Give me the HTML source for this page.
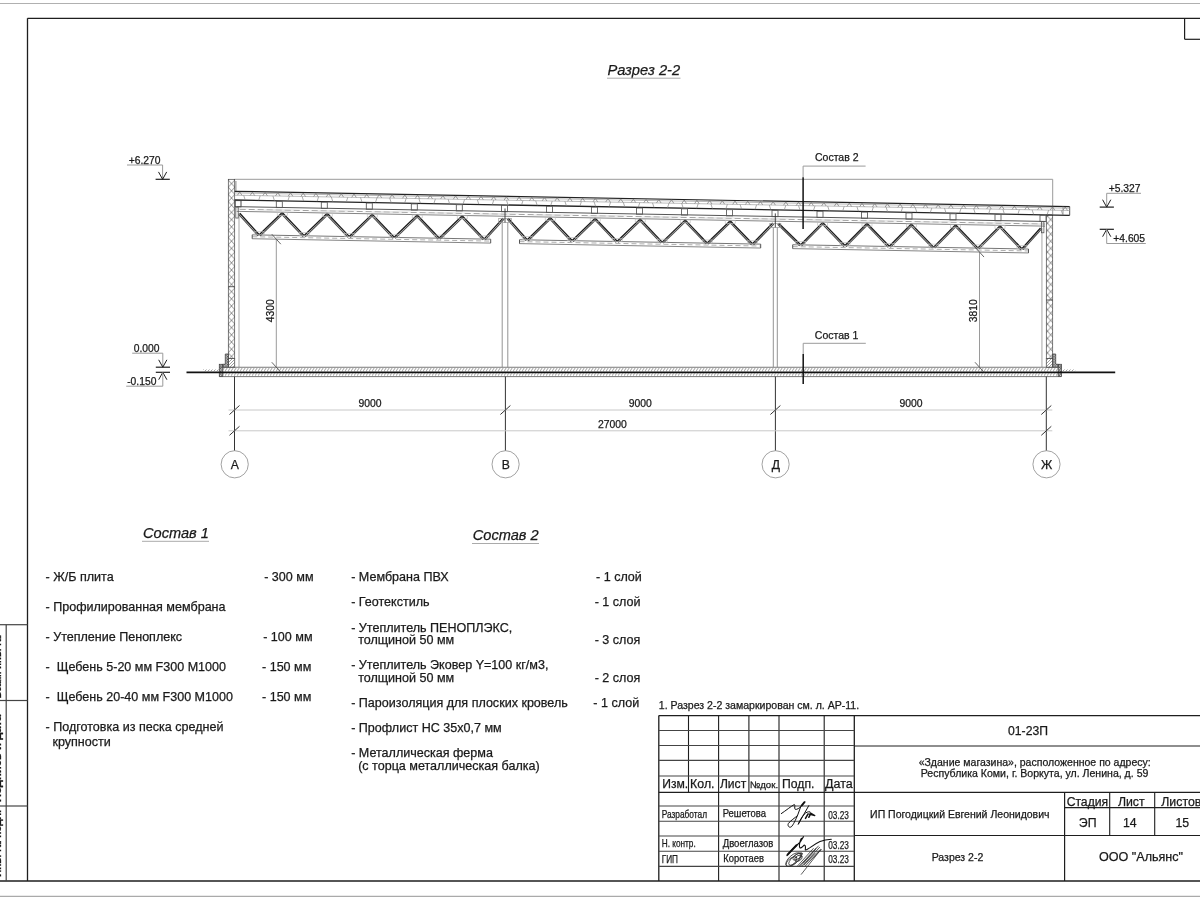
<!DOCTYPE html>
<html><head><meta charset="utf-8"><title>Разрез 2-2</title>
<style>
html,body{margin:0;padding:0;background:#fff;width:1200px;height:900px;overflow:hidden}
svg{display:block;will-change:transform;font-family:"Liberation Sans",sans-serif;fill:#1a1a1a}
text{fill:#1a1a1a;stroke:#1a1a1a;stroke-width:0.25px}
</style></head><body>
<svg width="1200" height="900" viewBox="0 0 1200 900">
<rect x="0" y="0" width="1200" height="900" fill="#fff" stroke="none"/>
<line x1="0.00" y1="3.50" x2="1200.00" y2="3.50" stroke="#b0b0b0" stroke-width="1.1" />
<line x1="0.00" y1="896.30" x2="1200.00" y2="896.30" stroke="#aaa" stroke-width="1.2" />
<line x1="27.50" y1="18.30" x2="1200.00" y2="18.30" stroke="#1e1e1e" stroke-width="1.3" />
<line x1="27.50" y1="18.30" x2="27.50" y2="881.00" stroke="#1e1e1e" stroke-width="1.3" />
<line x1="0.00" y1="881.00" x2="1200.00" y2="881.00" stroke="#1e1e1e" stroke-width="1.3" />
<line x1="1184.60" y1="18.30" x2="1184.60" y2="39.30" stroke="#1e1e1e" stroke-width="1.2" />
<line x1="1184.60" y1="39.30" x2="1200.00" y2="39.30" stroke="#1e1e1e" stroke-width="1.2" />
<line x1="6.20" y1="624.70" x2="6.20" y2="881.00" stroke="#444" stroke-width="1.2" />
<line x1="0.00" y1="624.70" x2="27.50" y2="624.70" stroke="#444" stroke-width="1.2" />
<line x1="0.00" y1="700.50" x2="27.50" y2="700.50" stroke="#444" stroke-width="1.2" />
<line x1="0.00" y1="806.00" x2="27.50" y2="806.00" stroke="#444" stroke-width="1.2" />
<text transform="translate(1.4,698.5) rotate(-90)" font-size="10.5" textLength="63.5" lengthAdjust="spacingAndGlyphs" font-weight="bold">Взам. инв. №</text>
<text transform="translate(1.4,802) rotate(-90)" font-size="10.5" textLength="87.4" lengthAdjust="spacingAndGlyphs" font-weight="bold">Подпись и дата</text>
<text transform="translate(1.4,877) rotate(-90)" font-size="10.5" textLength="67.0" lengthAdjust="spacingAndGlyphs" font-weight="bold">Инв. № подл.</text>
<line x1="658.80" y1="715.60" x2="658.80" y2="881.00" stroke="#1e1e1e" stroke-width="1.3" />
<line x1="688.50" y1="715.60" x2="688.50" y2="792.40" stroke="#1e1e1e" stroke-width="1.1" />
<line x1="718.60" y1="715.60" x2="718.60" y2="881.00" stroke="#1e1e1e" stroke-width="1.1" />
<line x1="748.90" y1="715.60" x2="748.90" y2="792.40" stroke="#1e1e1e" stroke-width="1.1" />
<line x1="779.00" y1="715.60" x2="779.00" y2="881.00" stroke="#1e1e1e" stroke-width="1.1" />
<line x1="824.20" y1="715.60" x2="824.20" y2="881.00" stroke="#1e1e1e" stroke-width="1.1" />
<line x1="854.30" y1="715.60" x2="854.30" y2="881.00" stroke="#1e1e1e" stroke-width="1.3" />
<line x1="658.80" y1="730.50" x2="854.30" y2="730.50" stroke="#444" stroke-width="1.1" />
<line x1="658.80" y1="745.50" x2="854.30" y2="745.50" stroke="#444" stroke-width="1.1" />
<line x1="658.80" y1="760.40" x2="854.30" y2="760.40" stroke="#444" stroke-width="1.1" />
<line x1="658.80" y1="776.00" x2="854.30" y2="776.00" stroke="#444" stroke-width="1.1" />
<line x1="658.80" y1="806.00" x2="854.30" y2="806.00" stroke="#444" stroke-width="1.1" />
<line x1="658.80" y1="821.20" x2="854.30" y2="821.20" stroke="#444" stroke-width="1.1" />
<line x1="658.80" y1="836.00" x2="854.30" y2="836.00" stroke="#444" stroke-width="1.1" />
<line x1="658.80" y1="851.20" x2="854.30" y2="851.20" stroke="#444" stroke-width="1.1" />
<line x1="658.80" y1="866.40" x2="854.30" y2="866.40" stroke="#444" stroke-width="1.1" />
<line x1="658.80" y1="715.60" x2="1200.00" y2="715.60" stroke="#1e1e1e" stroke-width="1.3" />
<line x1="658.80" y1="792.40" x2="1200.00" y2="792.40" stroke="#1e1e1e" stroke-width="1.3" />
<line x1="854.30" y1="746.00" x2="1200.00" y2="746.00" stroke="#1e1e1e" stroke-width="1.2" />
<line x1="854.30" y1="835.50" x2="1200.00" y2="835.50" stroke="#1e1e1e" stroke-width="1.2" />
<line x1="1064.60" y1="792.40" x2="1064.60" y2="881.00" stroke="#1e1e1e" stroke-width="1.2" />
<line x1="1109.70" y1="792.40" x2="1109.70" y2="835.50" stroke="#1e1e1e" stroke-width="1.1" />
<line x1="1154.70" y1="792.40" x2="1154.70" y2="835.50" stroke="#1e1e1e" stroke-width="1.1" />
<line x1="1064.60" y1="807.60" x2="1200.00" y2="807.60" stroke="#1e1e1e" stroke-width="1.1" />
<text x="662.30" y="787.70" font-size="12.1" text-anchor="start" >Изм.</text>
<text x="690.10" y="787.70" font-size="12.35" text-anchor="start" >Кол.</text>
<text x="719.90" y="787.70" font-size="12.1" text-anchor="start" >Лист</text>
<text x="749.80" y="787.70" font-size="9.3" textLength="28.30" lengthAdjust="spacingAndGlyphs" >№док.</text>
<text x="782.10" y="787.70" font-size="12.2" text-anchor="start" >Подп.</text>
<text x="825.00" y="787.70" font-size="12.5" text-anchor="start" >Дата</text>
<text x="661.70" y="817.60" font-size="10.2" textLength="45.30" lengthAdjust="spacingAndGlyphs" >Разработал</text>
<text x="722.70" y="816.50" font-size="10.2" textLength="43.30" lengthAdjust="spacingAndGlyphs" >Решетова</text>
<text x="661.70" y="846.90" font-size="10.2" textLength="34.00" lengthAdjust="spacingAndGlyphs" >Н. контр.</text>
<text x="722.70" y="846.90" font-size="10.2" textLength="50.60" lengthAdjust="spacingAndGlyphs" >Двоеглазов</text>
<text x="661.70" y="862.60" font-size="10.2" textLength="16.30" lengthAdjust="spacingAndGlyphs" >ГИП</text>
<text x="723.30" y="862.30" font-size="10.2" textLength="40.60" lengthAdjust="spacingAndGlyphs" >Коротаев</text>
<text x="828.30" y="818.70" font-size="10.2" textLength="20.60" lengthAdjust="spacingAndGlyphs" >03.23</text>
<text x="828.30" y="848.60" font-size="10.2" textLength="20.60" lengthAdjust="spacingAndGlyphs" >03.23</text>
<text x="828.30" y="863.40" font-size="10.2" textLength="20.60" lengthAdjust="spacingAndGlyphs" >03.23</text>
<g fill="none" stroke="#111" stroke-linecap="round" stroke-linejoin="round">
<path stroke-width="1" d="M781.3,813.6 C786,810.5 791,806.3 794.2,804.6 C795.6,804.3 794,808.7 795.2,809.3 C797,810 799.5,807.8 801.3,806.3 L804.7,801.8"/>
<path stroke-width="1.9" d="M801.6,805.6 L804.5,802.2"/>
<path stroke-width="1" d="M800.7,806.8 L797.5,815.5 C795,818 790.5,820.5 788.3,823.6 C787.3,825.8 789.3,828.2 791.3,826.8 C793.3,825 795.5,820 797.5,815.5"/>
<path stroke-width="1" d="M808.8,805.6 L798.2,824.4 C799.5,821 802,816.5 804.2,814.3 C806,812.3 808.2,811.4 809.8,811.8"/>
<path stroke-width="1.5" d="M805.5,818.4 L808.1,813.9 M808.8,817.3 L810.6,814"/>
<path stroke-width="1.2" d="M809.2,814.2 L814.8,815.6 L810.2,812.8"/>
<path stroke-width="1.1" d="M786.9,855.6 C791,850.5 796,845.5 800.3,842 L803.5,836.6 M801.4,838.4 C800,840.5 798.8,845 799.8,847.6 C800.8,848.8 802.5,846.5 804,845.3 C805.6,844.5 805.6,847.5 805.3,849.8 C806,850.6 808.5,848.6 810,847.6 C813,845.5 816.5,843.2 820,841.6 C824,839.8 828,839.3 831.3,839.2"/>
<path stroke-width="2" d="M787.6,854.6 L796.5,845.3"/>
</g>
<g fill="none" stroke="#333" stroke-width="0.8" stroke-linecap="round">
<ellipse cx="793.2" cy="859.6" rx="9.2" ry="4.3" transform="rotate(-42 793.2 859.6)"/>
<ellipse cx="795.2" cy="859.2" rx="8.2" ry="3.2" transform="rotate(-42 795.2 859.2)"/>
<ellipse cx="797.6" cy="856.4" rx="5.5" ry="2.3" transform="rotate(-35 797.6 856.4)"/>
<ellipse cx="791.5" cy="861.5" rx="6.5" ry="3.2" transform="rotate(-40 791.5 861.5)"/>
<ellipse cx="798.5" cy="858.2" rx="4" ry="2.6" transform="rotate(-30 798.5 858.2)"/>
<path d="M797.5,866 L813.3,848.5 M805.2,866 L821.2,849.7 M799.5,865.8 L816.2,848"/>
<path d="M800.3,866.3 L818.4,846 M802.3,866 L819.6,847.3 M804.3,864.8 L820.5,849.4 M803.5,863 L815.5,849.5 M801.3,874.3 L820.8,849.7 M806.5,862 L814.8,853.5"/>
</g>
<text x="1028.00" y="735.40" font-size="12.2" text-anchor="middle" >01-23П</text>
<text x="1034.70" y="766.00" font-size="10.52" text-anchor="middle" >«Здание магазина», расположенное по адресу:</text>
<text x="1034.60" y="776.60" font-size="10.56" text-anchor="middle" >Республика Коми, г. Воркута, ул. Ленина, д. 59</text>
<text x="959.80" y="818.40" font-size="10.51" text-anchor="middle" >ИП Погодицкий Евгений Леонидович</text>
<text x="1087.40" y="805.70" font-size="12.2" text-anchor="middle" >Стадия</text>
<text x="1131.30" y="805.70" font-size="12.3" text-anchor="middle" >Лист</text>
<text x="1161.30" y="805.70" font-size="12.3" text-anchor="start" >Листов</text>
<text x="1087.70" y="826.50" font-size="12.3" text-anchor="middle" >ЭП</text>
<text x="1129.80" y="826.50" font-size="12.3" text-anchor="middle" >14</text>
<text x="1182.30" y="826.50" font-size="12.3" text-anchor="middle" >15</text>
<text x="957.50" y="861.00" font-size="10.52" text-anchor="middle" >Разрез 2-2</text>
<text x="1141.00" y="861.00" font-size="12.58" text-anchor="middle" >ООО "Альянс"</text>
<text x="658.80" y="708.50" font-size="10.56" text-anchor="start" >1. Разрез 2-2 замаркирован см. л. АР-11.</text>
<text x="143.00" y="537.50" font-size="14.6" text-anchor="start" font-style="italic">Состав 1</text>
<line x1="142.00" y1="541.30" x2="209.00" y2="541.30" stroke="#aaa" stroke-width="1" />
<text x="472.80" y="540.00" font-size="14.6" text-anchor="start" font-style="italic">Состав 2</text>
<line x1="472.00" y1="543.50" x2="539.00" y2="543.50" stroke="#aaa" stroke-width="1" />
<text x="45.50" y="580.50" font-size="12.55" text-anchor="start" >- Ж/Б плита</text>
<text x="264.20" y="580.50" font-size="12.55" text-anchor="start" >- 300 мм</text>
<text x="45.50" y="610.50" font-size="12.55" text-anchor="start" >- Профилированная мембрана</text>
<text x="45.50" y="640.50" font-size="12.55" text-anchor="start" >- Утепление Пеноплекс</text>
<text x="263.20" y="640.50" font-size="12.55" text-anchor="start" >- 100 мм</text>
<text x="45.50" y="670.50" font-size="12.55" text-anchor="start" >-&#160; Щебень 5-20 мм F300 M1000</text>
<text x="262.00" y="670.50" font-size="12.55" text-anchor="start" >- 150 мм</text>
<text x="45.50" y="700.50" font-size="12.55" text-anchor="start" >-&#160; Щебень 20-40 мм F300 M1000</text>
<text x="262.00" y="700.50" font-size="12.55" text-anchor="start" >- 150 мм</text>
<text x="45.50" y="731.30" font-size="12.55" text-anchor="start" >- Подготовка из песка средней</text>
<text x="45.50" y="746.30" font-size="12.55" text-anchor="start" >&#160; крупности</text>
<text x="351.20" y="580.80" font-size="12.55" text-anchor="start" >- Мембрана ПВХ</text>
<text x="596.00" y="580.80" font-size="12.55" text-anchor="start" >- 1 слой</text>
<text x="351.20" y="605.90" font-size="12.55" text-anchor="start" >- Геотекстиль</text>
<text x="594.70" y="605.90" font-size="12.55" text-anchor="start" >- 1 слой</text>
<text x="351.20" y="631.50" font-size="12.55" text-anchor="start" >- Утеплитель ПЕНОПЛЭКС,</text>
<text x="351.20" y="644.20" font-size="12.55" text-anchor="start" >&#160; толщиной 50 мм</text>
<text x="594.70" y="644.20" font-size="12.55" text-anchor="start" >- 3 слоя</text>
<text x="351.20" y="668.80" font-size="12.55" text-anchor="start" >- Утеплитель Эковер Y=100 кг/м3,</text>
<text x="351.20" y="682.10" font-size="12.55" text-anchor="start" >&#160; толщиной 50 мм</text>
<text x="594.70" y="682.10" font-size="12.55" text-anchor="start" >- 2 слоя</text>
<text x="351.20" y="706.70" font-size="12.55" text-anchor="start" >- Пароизоляция для плоских кровель</text>
<text x="593.30" y="706.70" font-size="12.55" text-anchor="start" >- 1 слой</text>
<text x="351.20" y="732.00" font-size="12.55" text-anchor="start" >- Профлист НС 35х0,7 мм</text>
<text x="351.20" y="757.30" font-size="12.55" text-anchor="start" >- Металлическая ферма</text>
<text x="351.20" y="770.10" font-size="12.55" text-anchor="start" >&#160; (с торца металлическая балка)</text>
<text x="607.40" y="75.10" font-size="14.7" text-anchor="start" font-style="italic">Разрез 2-2</text>
<line x1="607.00" y1="78.20" x2="680.50" y2="78.20" stroke="#aaa" stroke-width="1" />
<defs>
<pattern id="xh" patternUnits="userSpaceOnUse" x="228.3" y="180" width="6.4" height="7.2"><path d="M0,0 L6.4,7.2 M6.4,0 L0,7.2" stroke="#444" stroke-width="0.6" fill="none"/></pattern>
<pattern id="sh" patternUnits="userSpaceOnUse" x="0" y="0" width="3" height="4.6"><path d="M-1,4.6 L2.2,0" stroke="#777" stroke-width="0.7" fill="none"/></pattern>
<pattern id="ph" patternUnits="userSpaceOnUse" x="0" y="0" width="1.6" height="1.6"><path d="M0,1.6 L1.6,0" stroke="#333" stroke-width="0.8" fill="none"/></pattern>
<pattern id="dh" patternUnits="userSpaceOnUse" x="0" y="0" width="3" height="3"><path d="M0,3 L3,0" stroke="#777" stroke-width="0.7" fill="none"/></pattern>
</defs>
<line x1="127.00" y1="165.00" x2="162.60" y2="165.00" stroke="#9a9a9a" stroke-width="1" />
<line x1="162.60" y1="165.00" x2="162.60" y2="179.30" stroke="#9a9a9a" stroke-width="1" />
<polyline points="158.50,171.90 162.60,179.30 166.70,171.90" stroke="#1e1e1e" stroke-width="1" fill="none" />
<line x1="155.60" y1="179.30" x2="169.80" y2="179.30" stroke="#1e1e1e" stroke-width="1.2" />
<text x="128.70" y="163.70" font-size="10.3" text-anchor="start" >+6.270</text>
<line x1="132.20" y1="353.20" x2="162.80" y2="353.20" stroke="#9a9a9a" stroke-width="1" />
<line x1="162.80" y1="353.20" x2="162.80" y2="367.20" stroke="#9a9a9a" stroke-width="1" />
<polyline points="158.70,359.80 162.80,367.20 166.90,359.80" stroke="#1e1e1e" stroke-width="1" fill="none" />
<line x1="155.80" y1="367.20" x2="170.00" y2="367.20" stroke="#1e1e1e" stroke-width="1.2" />
<text x="133.70" y="352.20" font-size="10.3" text-anchor="start" >0.000</text>
<line x1="155.80" y1="372.30" x2="170.00" y2="372.30" stroke="#1e1e1e" stroke-width="1.2" />
<polyline points="158.70,379.70 162.80,372.30 166.90,379.70" stroke="#1e1e1e" stroke-width="1" fill="none" />
<line x1="162.80" y1="372.30" x2="162.80" y2="386.20" stroke="#9a9a9a" stroke-width="1" />
<line x1="126.20" y1="386.20" x2="162.80" y2="386.20" stroke="#9a9a9a" stroke-width="1" />
<text x="127.20" y="385.20" font-size="10.3" text-anchor="start" >-0.150</text>
<line x1="1106.70" y1="193.30" x2="1141.00" y2="193.30" stroke="#9a9a9a" stroke-width="1" />
<line x1="1106.70" y1="193.30" x2="1106.70" y2="207.10" stroke="#9a9a9a" stroke-width="1" />
<polyline points="1102.60,199.70 1106.70,207.10 1110.80,199.70" stroke="#1e1e1e" stroke-width="1" fill="none" />
<line x1="1099.70" y1="207.10" x2="1113.90" y2="207.10" stroke="#1e1e1e" stroke-width="1.2" />
<text x="1108.70" y="192.20" font-size="10.3" text-anchor="start" >+5.327</text>
<line x1="1099.70" y1="229.30" x2="1113.90" y2="229.30" stroke="#1e1e1e" stroke-width="1.2" />
<polyline points="1102.60,236.70 1106.70,229.30 1110.80,236.70" stroke="#1e1e1e" stroke-width="1" fill="none" />
<line x1="1106.70" y1="229.30" x2="1106.70" y2="243.50" stroke="#9a9a9a" stroke-width="1" />
<line x1="1106.70" y1="243.50" x2="1145.80" y2="243.50" stroke="#9a9a9a" stroke-width="1" />
<text x="1113.30" y="242.00" font-size="10.3" text-anchor="start" >+4.605</text>
<line x1="234.70" y1="179.30" x2="1052.70" y2="179.30" stroke="#9a9a9a" stroke-width="1" />
<line x1="1052.70" y1="179.30" x2="1052.70" y2="214.00" stroke="#9a9a9a" stroke-width="1" />
<rect x="228.30" y="179.30" width="6.40" height="179.20" stroke="#444" stroke-width="0.7" fill="url(#xh)" />
<line x1="228.30" y1="286.70" x2="234.70" y2="286.70" stroke="#333" stroke-width="0.8" />
<rect x="1046.30" y="215.00" width="6.40" height="143.50" stroke="#444" stroke-width="0.7" fill="url(#xh)" />
<line x1="1046.30" y1="300.00" x2="1052.70" y2="300.00" stroke="#333" stroke-width="0.8" />
<rect x="228.30" y="358.50" width="6.40" height="8.80" stroke="#555" stroke-width="0.8" fill="url(#dh)" />
<rect x="1046.30" y="358.50" width="6.40" height="8.80" stroke="#555" stroke-width="0.8" fill="url(#dh)" />
<polygon points="225.30,354.00 228.30,354.00 228.30,367.30 222.80,367.30 222.80,364.30 225.30,364.30" stroke="#444" stroke-width="0.8" fill="url(#ph)" />
<rect x="219.30" y="364.30" width="3.50" height="12.30" stroke="#444" stroke-width="0.8" fill="url(#ph)" />
<polygon points="1052.70,354.00 1055.70,354.00 1055.70,364.30 1058.20,364.30 1058.20,367.30 1052.70,367.30" stroke="#444" stroke-width="0.8" fill="url(#ph)" />
<rect x="1058.20" y="364.30" width="3.20" height="12.30" stroke="#444" stroke-width="0.8" fill="url(#ph)" />
<line x1="239.00" y1="213.00" x2="239.00" y2="367.00" stroke="#c8c8c8" stroke-width="1.6" />
<line x1="1041.90" y1="228.00" x2="1041.90" y2="367.00" stroke="#c8c8c8" stroke-width="1.6" />
<line x1="235.90" y1="181.00" x2="235.90" y2="191.00" stroke="#666" stroke-width="0.8" />
<rect x="222.80" y="367.25" width="838.40" height="9.35" stroke="none" stroke-width="0" fill="url(#sh)" />
<line x1="219.30" y1="367.25" x2="1061.20" y2="367.25" stroke="#555" stroke-width="0.8" />
<line x1="219.30" y1="376.60" x2="1061.20" y2="376.60" stroke="#555" stroke-width="0.8" />
<line x1="186.50" y1="372.40" x2="1115.20" y2="372.40" stroke="#111" stroke-width="1.6" />
<rect x="203.00" y="369.50" width="16.30" height="2.40" stroke="none" stroke-width="0" fill="url(#dh)" />
<rect x="1061.20" y="369.50" width="14.00" height="2.40" stroke="none" stroke-width="0" fill="url(#dh)" />
<line x1="234.70" y1="191.31" x2="1069.70" y2="206.59" stroke="#222" stroke-width="1.2" />
<line x1="234.70" y1="200.01" x2="1069.70" y2="215.29" stroke="#222" stroke-width="1.3" />
<line x1="1069.70" y1="206.59" x2="1069.70" y2="215.29" stroke="#444" stroke-width="0.9" />
<line x1="1063.00" y1="206.47" x2="1063.00" y2="215.17" stroke="#777" stroke-width="0.7" />
<line x1="234.70" y1="195.21" x2="1069.70" y2="210.49" stroke="#a0a0a0" stroke-width="0.7" />
<line x1="234.70" y1="192.91" x2="1069.70" y2="208.19" stroke="#999" stroke-width="0.7" />
<polyline points="237.40,195.26 239.70,191.90 242.00,195.35" stroke="#777" stroke-width="0.7" fill="none" />
<polyline points="250.10,195.49 252.40,192.14 254.70,195.58" stroke="#777" stroke-width="0.7" fill="none" />
<polyline points="262.80,195.73 265.10,192.37 267.40,195.81" stroke="#777" stroke-width="0.7" fill="none" />
<polyline points="275.50,195.96 277.80,192.60 280.10,196.04" stroke="#777" stroke-width="0.7" fill="none" />
<polyline points="288.20,196.19 290.50,192.83 292.80,196.28" stroke="#777" stroke-width="0.7" fill="none" />
<polyline points="300.90,196.42 303.20,193.07 305.50,196.51" stroke="#777" stroke-width="0.7" fill="none" />
<polyline points="313.60,196.66 315.90,193.30 318.20,196.74" stroke="#777" stroke-width="0.7" fill="none" />
<polyline points="326.30,196.89 328.60,193.53 330.90,196.97" stroke="#777" stroke-width="0.7" fill="none" />
<polyline points="339.00,197.12 341.30,193.76 343.60,197.21" stroke="#777" stroke-width="0.7" fill="none" />
<polyline points="351.70,197.35 354.00,194.00 356.30,197.44" stroke="#777" stroke-width="0.7" fill="none" />
<polyline points="364.40,197.59 366.70,194.23 369.00,197.67" stroke="#777" stroke-width="0.7" fill="none" />
<polyline points="377.10,197.82 379.40,194.46 381.70,197.90" stroke="#777" stroke-width="0.7" fill="none" />
<polyline points="389.80,198.05 392.10,194.69 394.40,198.14" stroke="#777" stroke-width="0.7" fill="none" />
<polyline points="402.50,198.28 404.80,194.93 407.10,198.37" stroke="#777" stroke-width="0.7" fill="none" />
<polyline points="415.20,198.52 417.50,195.16 419.80,198.60" stroke="#777" stroke-width="0.7" fill="none" />
<polyline points="427.90,198.75 430.20,195.39 432.50,198.83" stroke="#777" stroke-width="0.7" fill="none" />
<polyline points="440.60,198.98 442.90,195.62 445.20,199.06" stroke="#777" stroke-width="0.7" fill="none" />
<polyline points="453.30,199.21 455.60,195.86 457.90,199.30" stroke="#777" stroke-width="0.7" fill="none" />
<polyline points="466.00,199.45 468.30,196.09 470.60,199.53" stroke="#777" stroke-width="0.7" fill="none" />
<polyline points="478.70,199.68 481.00,196.32 483.30,199.76" stroke="#777" stroke-width="0.7" fill="none" />
<polyline points="491.40,199.91 493.70,196.55 496.00,199.99" stroke="#777" stroke-width="0.7" fill="none" />
<polyline points="504.10,200.14 506.40,196.78 508.70,200.23" stroke="#777" stroke-width="0.7" fill="none" />
<polyline points="516.80,200.38 519.10,197.02 521.40,200.46" stroke="#777" stroke-width="0.7" fill="none" />
<polyline points="529.50,200.61 531.80,197.25 534.10,200.69" stroke="#777" stroke-width="0.7" fill="none" />
<polyline points="542.20,200.84 544.50,197.48 546.80,200.92" stroke="#777" stroke-width="0.7" fill="none" />
<polyline points="554.90,201.07 557.20,197.71 559.50,201.16" stroke="#777" stroke-width="0.7" fill="none" />
<polyline points="567.60,201.30 569.90,197.95 572.20,201.39" stroke="#777" stroke-width="0.7" fill="none" />
<polyline points="580.30,201.54 582.60,198.18 584.90,201.62" stroke="#777" stroke-width="0.7" fill="none" />
<polyline points="593.00,201.77 595.30,198.41 597.60,201.85" stroke="#777" stroke-width="0.7" fill="none" />
<polyline points="605.70,202.00 608.00,198.64 610.30,202.09" stroke="#777" stroke-width="0.7" fill="none" />
<polyline points="618.40,202.23 620.70,198.88 623.00,202.32" stroke="#777" stroke-width="0.7" fill="none" />
<polyline points="631.10,202.47 633.40,199.11 635.70,202.55" stroke="#777" stroke-width="0.7" fill="none" />
<polyline points="643.80,202.70 646.10,199.34 648.40,202.78" stroke="#777" stroke-width="0.7" fill="none" />
<polyline points="656.50,202.93 658.80,199.57 661.10,203.02" stroke="#777" stroke-width="0.7" fill="none" />
<polyline points="669.20,203.16 671.50,199.81 673.80,203.25" stroke="#777" stroke-width="0.7" fill="none" />
<polyline points="681.90,203.40 684.20,200.04 686.50,203.48" stroke="#777" stroke-width="0.7" fill="none" />
<polyline points="694.60,203.63 696.90,200.27 699.20,203.71" stroke="#777" stroke-width="0.7" fill="none" />
<polyline points="707.30,203.86 709.60,200.50 711.90,203.95" stroke="#777" stroke-width="0.7" fill="none" />
<polyline points="720.00,204.09 722.30,200.74 724.60,204.18" stroke="#777" stroke-width="0.7" fill="none" />
<polyline points="732.70,204.33 735.00,200.97 737.30,204.41" stroke="#777" stroke-width="0.7" fill="none" />
<polyline points="745.40,204.56 747.70,201.20 750.00,204.64" stroke="#777" stroke-width="0.7" fill="none" />
<polyline points="758.10,204.79 760.40,201.43 762.70,204.88" stroke="#777" stroke-width="0.7" fill="none" />
<polyline points="770.80,205.02 773.10,201.67 775.40,205.11" stroke="#777" stroke-width="0.7" fill="none" />
<polyline points="783.50,205.26 785.80,201.90 788.10,205.34" stroke="#777" stroke-width="0.7" fill="none" />
<polyline points="796.20,205.49 798.50,202.13 800.80,205.57" stroke="#777" stroke-width="0.7" fill="none" />
<polyline points="808.90,205.72 811.20,202.36 813.50,205.80" stroke="#777" stroke-width="0.7" fill="none" />
<polyline points="821.60,205.95 823.90,202.60 826.20,206.04" stroke="#777" stroke-width="0.7" fill="none" />
<polyline points="834.30,206.19 836.60,202.83 838.90,206.27" stroke="#777" stroke-width="0.7" fill="none" />
<polyline points="847.00,206.42 849.30,203.06 851.60,206.50" stroke="#777" stroke-width="0.7" fill="none" />
<polyline points="859.70,206.65 862.00,203.29 864.30,206.73" stroke="#777" stroke-width="0.7" fill="none" />
<polyline points="872.40,206.88 874.70,203.52 877.00,206.97" stroke="#777" stroke-width="0.7" fill="none" />
<polyline points="885.10,207.12 887.40,203.76 889.70,207.20" stroke="#777" stroke-width="0.7" fill="none" />
<polyline points="897.80,207.35 900.10,203.99 902.40,207.43" stroke="#777" stroke-width="0.7" fill="none" />
<polyline points="910.50,207.58 912.80,204.22 915.10,207.66" stroke="#777" stroke-width="0.7" fill="none" />
<polyline points="923.20,207.81 925.50,204.45 927.80,207.90" stroke="#777" stroke-width="0.7" fill="none" />
<polyline points="935.90,208.04 938.20,204.69 940.50,208.13" stroke="#777" stroke-width="0.7" fill="none" />
<polyline points="948.60,208.28 950.90,204.92 953.20,208.36" stroke="#777" stroke-width="0.7" fill="none" />
<polyline points="961.30,208.51 963.60,205.15 965.90,208.59" stroke="#777" stroke-width="0.7" fill="none" />
<polyline points="974.00,208.74 976.30,205.38 978.60,208.83" stroke="#777" stroke-width="0.7" fill="none" />
<polyline points="986.70,208.97 989.00,205.62 991.30,209.06" stroke="#777" stroke-width="0.7" fill="none" />
<polyline points="999.40,209.21 1001.70,205.85 1004.00,209.29" stroke="#777" stroke-width="0.7" fill="none" />
<polyline points="1012.10,209.44 1014.40,206.08 1016.70,209.52" stroke="#777" stroke-width="0.7" fill="none" />
<polyline points="1024.80,209.67 1027.10,206.31 1029.40,209.76" stroke="#777" stroke-width="0.7" fill="none" />
<polyline points="1037.50,209.90 1039.80,206.55 1042.10,209.99" stroke="#777" stroke-width="0.7" fill="none" />
<polyline points="1050.20,210.14 1052.50,206.78 1054.80,210.22" stroke="#777" stroke-width="0.7" fill="none" />
<polyline points="1062.90,210.37 1065.20,207.01 1067.50,210.45" stroke="#777" stroke-width="0.7" fill="none" />
<line x1="243.70" y1="195.38" x2="245.20" y2="200.00" stroke="#888" stroke-width="0.7" />
<line x1="260.20" y1="195.68" x2="258.70" y2="200.25" stroke="#888" stroke-width="0.7" />
<line x1="272.90" y1="195.91" x2="274.40" y2="200.54" stroke="#888" stroke-width="0.7" />
<line x1="289.40" y1="196.21" x2="287.90" y2="200.79" stroke="#888" stroke-width="0.7" />
<line x1="302.10" y1="196.45" x2="303.60" y2="201.07" stroke="#888" stroke-width="0.7" />
<line x1="318.60" y1="196.75" x2="317.10" y2="201.32" stroke="#888" stroke-width="0.7" />
<line x1="331.30" y1="196.98" x2="332.80" y2="201.61" stroke="#888" stroke-width="0.7" />
<line x1="347.80" y1="197.28" x2="346.30" y2="201.86" stroke="#888" stroke-width="0.7" />
<line x1="360.50" y1="197.51" x2="362.00" y2="202.14" stroke="#888" stroke-width="0.7" />
<line x1="377.00" y1="197.82" x2="375.50" y2="202.39" stroke="#888" stroke-width="0.7" />
<line x1="389.70" y1="198.05" x2="391.20" y2="202.68" stroke="#888" stroke-width="0.7" />
<line x1="406.20" y1="198.35" x2="404.70" y2="202.92" stroke="#888" stroke-width="0.7" />
<line x1="418.90" y1="198.58" x2="420.40" y2="203.21" stroke="#888" stroke-width="0.7" />
<line x1="435.40" y1="198.89" x2="433.90" y2="203.46" stroke="#888" stroke-width="0.7" />
<line x1="448.10" y1="199.12" x2="449.60" y2="203.75" stroke="#888" stroke-width="0.7" />
<line x1="464.60" y1="199.42" x2="463.10" y2="203.99" stroke="#888" stroke-width="0.7" />
<line x1="477.30" y1="199.65" x2="478.80" y2="204.28" stroke="#888" stroke-width="0.7" />
<line x1="493.80" y1="199.95" x2="492.30" y2="204.53" stroke="#888" stroke-width="0.7" />
<line x1="506.50" y1="200.19" x2="508.00" y2="204.81" stroke="#888" stroke-width="0.7" />
<line x1="523.00" y1="200.49" x2="521.50" y2="205.06" stroke="#888" stroke-width="0.7" />
<line x1="535.70" y1="200.72" x2="537.20" y2="205.35" stroke="#888" stroke-width="0.7" />
<line x1="552.20" y1="201.02" x2="550.70" y2="205.60" stroke="#888" stroke-width="0.7" />
<line x1="564.90" y1="201.26" x2="566.40" y2="205.88" stroke="#888" stroke-width="0.7" />
<line x1="581.40" y1="201.56" x2="579.90" y2="206.13" stroke="#888" stroke-width="0.7" />
<line x1="594.10" y1="201.79" x2="595.60" y2="206.42" stroke="#888" stroke-width="0.7" />
<line x1="610.60" y1="202.09" x2="609.10" y2="206.66" stroke="#888" stroke-width="0.7" />
<line x1="623.30" y1="202.32" x2="624.80" y2="206.95" stroke="#888" stroke-width="0.7" />
<line x1="639.80" y1="202.63" x2="638.30" y2="207.20" stroke="#888" stroke-width="0.7" />
<line x1="652.50" y1="202.86" x2="654.00" y2="207.49" stroke="#888" stroke-width="0.7" />
<line x1="669.00" y1="203.16" x2="667.50" y2="207.73" stroke="#888" stroke-width="0.7" />
<line x1="681.70" y1="203.39" x2="683.20" y2="208.02" stroke="#888" stroke-width="0.7" />
<line x1="698.20" y1="203.69" x2="696.70" y2="208.27" stroke="#888" stroke-width="0.7" />
<line x1="710.90" y1="203.93" x2="712.40" y2="208.55" stroke="#888" stroke-width="0.7" />
<line x1="727.40" y1="204.23" x2="725.90" y2="208.80" stroke="#888" stroke-width="0.7" />
<line x1="740.10" y1="204.46" x2="741.60" y2="209.09" stroke="#888" stroke-width="0.7" />
<line x1="756.60" y1="204.76" x2="755.10" y2="209.34" stroke="#888" stroke-width="0.7" />
<line x1="769.30" y1="205.00" x2="770.80" y2="209.62" stroke="#888" stroke-width="0.7" />
<line x1="785.80" y1="205.30" x2="784.30" y2="209.87" stroke="#888" stroke-width="0.7" />
<line x1="798.50" y1="205.53" x2="800.00" y2="210.16" stroke="#888" stroke-width="0.7" />
<line x1="815.00" y1="205.83" x2="813.50" y2="210.40" stroke="#888" stroke-width="0.7" />
<line x1="827.70" y1="206.06" x2="829.20" y2="210.69" stroke="#888" stroke-width="0.7" />
<line x1="844.20" y1="206.37" x2="842.70" y2="210.94" stroke="#888" stroke-width="0.7" />
<line x1="856.90" y1="206.60" x2="858.40" y2="211.23" stroke="#888" stroke-width="0.7" />
<line x1="873.40" y1="206.90" x2="871.90" y2="211.47" stroke="#888" stroke-width="0.7" />
<line x1="886.10" y1="207.13" x2="887.60" y2="211.76" stroke="#888" stroke-width="0.7" />
<line x1="902.60" y1="207.44" x2="901.10" y2="212.01" stroke="#888" stroke-width="0.7" />
<line x1="915.30" y1="207.67" x2="916.80" y2="212.30" stroke="#888" stroke-width="0.7" />
<line x1="931.80" y1="207.97" x2="930.30" y2="212.54" stroke="#888" stroke-width="0.7" />
<line x1="944.50" y1="208.20" x2="946.00" y2="212.83" stroke="#888" stroke-width="0.7" />
<line x1="961.00" y1="208.50" x2="959.50" y2="213.08" stroke="#888" stroke-width="0.7" />
<line x1="973.70" y1="208.74" x2="975.20" y2="213.36" stroke="#888" stroke-width="0.7" />
<line x1="990.20" y1="209.04" x2="988.70" y2="213.61" stroke="#888" stroke-width="0.7" />
<line x1="1002.90" y1="209.27" x2="1004.40" y2="213.90" stroke="#888" stroke-width="0.7" />
<line x1="1019.40" y1="209.57" x2="1017.90" y2="214.15" stroke="#888" stroke-width="0.7" />
<line x1="1032.10" y1="209.81" x2="1033.60" y2="214.43" stroke="#888" stroke-width="0.7" />
<line x1="1048.60" y1="210.11" x2="1047.10" y2="214.68" stroke="#888" stroke-width="0.7" />
<line x1="1061.30" y1="210.34" x2="1062.80" y2="214.97" stroke="#888" stroke-width="0.7" />
<rect x="276.30" y="201.43" width="6.00" height="6.20" stroke="#555" stroke-width="0.85" fill="#fff" />
<rect x="321.30" y="202.25" width="6.00" height="6.20" stroke="#555" stroke-width="0.85" fill="#fff" />
<rect x="366.30" y="203.08" width="6.00" height="6.20" stroke="#555" stroke-width="0.85" fill="#fff" />
<rect x="411.30" y="203.90" width="6.00" height="6.20" stroke="#555" stroke-width="0.85" fill="#fff" />
<rect x="456.30" y="204.72" width="6.00" height="6.20" stroke="#555" stroke-width="0.85" fill="#fff" />
<rect x="501.50" y="205.55" width="6.00" height="6.20" stroke="#555" stroke-width="0.85" fill="#fff" />
<rect x="546.50" y="206.37" width="6.00" height="6.20" stroke="#555" stroke-width="0.85" fill="#fff" />
<rect x="591.50" y="207.20" width="6.00" height="6.20" stroke="#555" stroke-width="0.85" fill="#fff" />
<rect x="636.50" y="208.02" width="6.00" height="6.20" stroke="#555" stroke-width="0.85" fill="#fff" />
<rect x="681.50" y="208.84" width="6.00" height="6.20" stroke="#555" stroke-width="0.85" fill="#fff" />
<rect x="726.50" y="209.67" width="6.00" height="6.20" stroke="#555" stroke-width="0.85" fill="#fff" />
<rect x="772.00" y="210.50" width="6.00" height="6.20" stroke="#555" stroke-width="0.85" fill="#fff" />
<rect x="817.00" y="211.32" width="6.00" height="6.20" stroke="#555" stroke-width="0.85" fill="#fff" />
<rect x="861.50" y="212.14" width="6.00" height="6.20" stroke="#555" stroke-width="0.85" fill="#fff" />
<rect x="906.00" y="212.95" width="6.00" height="6.20" stroke="#555" stroke-width="0.85" fill="#fff" />
<rect x="950.00" y="213.76" width="6.00" height="6.20" stroke="#555" stroke-width="0.85" fill="#fff" />
<rect x="995.00" y="214.58" width="6.00" height="6.20" stroke="#555" stroke-width="0.85" fill="#fff" />
<rect x="1040.00" y="215.40" width="6.00" height="6.20" stroke="#555" stroke-width="0.85" fill="#fff" />
<rect x="235.20" y="200.62" width="5.80" height="6.20" stroke="#333" stroke-width="0.9" fill="#fff" />
<line x1="236.70" y1="206.65" x2="1045.00" y2="221.44" stroke="#555" stroke-width="1.0" />
<line x1="236.70" y1="209.25" x2="1045.00" y2="224.04" stroke="#888" stroke-width="0.8" />
<line x1="236.7" y1="209.25" x2="1045" y2="224.04" stroke="#fff" stroke-width="1" stroke-dasharray="3 6"/>
<line x1="236.70" y1="211.35" x2="1045.00" y2="226.14" stroke="#777" stroke-width="0.9" />
<line x1="252.20" y1="234.83" x2="490.70" y2="239.20" stroke="#666" stroke-width="0.9" />
<line x1="252.20" y1="236.73" x2="490.70" y2="241.10" stroke="#999" stroke-width="0.8" stroke-dasharray="5 3"/>
<line x1="252.20" y1="238.73" x2="490.70" y2="243.10" stroke="#777" stroke-width="0.9" />
<line x1="252.20" y1="234.83" x2="252.20" y2="238.73" stroke="#444" stroke-width="0.9" />
<line x1="490.70" y1="239.20" x2="490.70" y2="243.10" stroke="#444" stroke-width="0.9" />
<line x1="239.80" y1="213.31" x2="259.20" y2="234.76" stroke="#1a1a1a" stroke-width="1.3" />
<line x1="238.69" y1="214.31" x2="258.09" y2="235.77" stroke="#4a4a4a" stroke-width="1.1" />
<line x1="259.20" y1="234.76" x2="282.20" y2="212.48" stroke="#1a1a1a" stroke-width="1.3" />
<line x1="260.24" y1="235.84" x2="283.24" y2="213.56" stroke="#4a4a4a" stroke-width="1.1" />
<line x1="282.20" y1="212.48" x2="304.20" y2="235.58" stroke="#1a1a1a" stroke-width="1.3" />
<line x1="281.11" y1="213.52" x2="303.11" y2="236.62" stroke="#4a4a4a" stroke-width="1.1" />
<line x1="304.20" y1="235.58" x2="327.20" y2="213.31" stroke="#1a1a1a" stroke-width="1.3" />
<line x1="305.24" y1="236.66" x2="328.24" y2="214.38" stroke="#4a4a4a" stroke-width="1.1" />
<line x1="327.20" y1="213.31" x2="349.20" y2="236.41" stroke="#1a1a1a" stroke-width="1.3" />
<line x1="326.11" y1="214.34" x2="348.11" y2="237.44" stroke="#4a4a4a" stroke-width="1.1" />
<line x1="349.20" y1="236.41" x2="372.20" y2="214.13" stroke="#1a1a1a" stroke-width="1.3" />
<line x1="350.24" y1="237.49" x2="373.24" y2="215.21" stroke="#4a4a4a" stroke-width="1.1" />
<line x1="372.20" y1="214.13" x2="394.20" y2="237.23" stroke="#1a1a1a" stroke-width="1.3" />
<line x1="371.11" y1="215.16" x2="393.11" y2="238.27" stroke="#4a4a4a" stroke-width="1.1" />
<line x1="394.20" y1="237.23" x2="417.20" y2="214.95" stroke="#1a1a1a" stroke-width="1.3" />
<line x1="395.24" y1="238.31" x2="418.24" y2="216.03" stroke="#4a4a4a" stroke-width="1.1" />
<line x1="417.20" y1="214.95" x2="439.20" y2="238.06" stroke="#1a1a1a" stroke-width="1.3" />
<line x1="416.11" y1="215.99" x2="438.11" y2="239.09" stroke="#4a4a4a" stroke-width="1.1" />
<line x1="439.20" y1="238.06" x2="462.20" y2="215.78" stroke="#1a1a1a" stroke-width="1.3" />
<line x1="440.24" y1="239.13" x2="463.24" y2="216.85" stroke="#4a4a4a" stroke-width="1.1" />
<line x1="462.20" y1="215.78" x2="484.20" y2="238.88" stroke="#1a1a1a" stroke-width="1.3" />
<line x1="461.11" y1="216.81" x2="483.11" y2="239.91" stroke="#4a4a4a" stroke-width="1.1" />
<line x1="484.20" y1="238.88" x2="503.00" y2="218.12" stroke="#1a1a1a" stroke-width="1.3" />
<line x1="485.31" y1="239.89" x2="504.11" y2="219.13" stroke="#4a4a4a" stroke-width="1.1" />
<rect x="277.20" y="212.48" width="10.00" height="3.00" stroke="#bbb" stroke-width="0.6" fill="none" />
<rect x="322.20" y="213.31" width="10.00" height="3.00" stroke="#bbb" stroke-width="0.6" fill="none" />
<rect x="367.20" y="214.13" width="10.00" height="3.00" stroke="#bbb" stroke-width="0.6" fill="none" />
<rect x="412.20" y="214.95" width="10.00" height="3.00" stroke="#bbb" stroke-width="0.6" fill="none" />
<rect x="457.20" y="215.78" width="10.00" height="3.00" stroke="#bbb" stroke-width="0.6" fill="none" />
<rect x="254.20" y="231.76" width="10.00" height="3.00" stroke="#bbb" stroke-width="0.6" fill="none" />
<rect x="299.20" y="232.58" width="10.00" height="3.00" stroke="#bbb" stroke-width="0.6" fill="none" />
<rect x="344.20" y="233.41" width="10.00" height="3.00" stroke="#bbb" stroke-width="0.6" fill="none" />
<rect x="389.20" y="234.23" width="10.00" height="3.00" stroke="#bbb" stroke-width="0.6" fill="none" />
<rect x="434.20" y="235.06" width="10.00" height="3.00" stroke="#bbb" stroke-width="0.6" fill="none" />
<rect x="479.20" y="235.88" width="10.00" height="3.00" stroke="#bbb" stroke-width="0.6" fill="none" />
<line x1="519.50" y1="239.72" x2="760.70" y2="244.14" stroke="#666" stroke-width="0.9" />
<line x1="519.50" y1="241.62" x2="760.70" y2="246.04" stroke="#999" stroke-width="0.8" stroke-dasharray="5 3"/>
<line x1="519.50" y1="243.62" x2="760.70" y2="248.04" stroke="#777" stroke-width="0.9" />
<line x1="519.50" y1="239.72" x2="519.50" y2="243.62" stroke="#444" stroke-width="0.9" />
<line x1="760.70" y1="244.14" x2="760.70" y2="248.04" stroke="#444" stroke-width="0.9" />
<line x1="508.20" y1="218.22" x2="527.20" y2="239.67" stroke="#1a1a1a" stroke-width="1.3" />
<line x1="507.08" y1="219.21" x2="526.08" y2="240.66" stroke="#4a4a4a" stroke-width="1.1" />
<line x1="527.20" y1="239.67" x2="550.20" y2="217.39" stroke="#1a1a1a" stroke-width="1.3" />
<line x1="528.24" y1="240.74" x2="551.24" y2="218.46" stroke="#4a4a4a" stroke-width="1.1" />
<line x1="550.20" y1="217.39" x2="572.20" y2="240.49" stroke="#1a1a1a" stroke-width="1.3" />
<line x1="549.11" y1="218.42" x2="571.11" y2="241.52" stroke="#4a4a4a" stroke-width="1.1" />
<line x1="572.20" y1="240.49" x2="595.20" y2="218.21" stroke="#1a1a1a" stroke-width="1.3" />
<line x1="573.24" y1="241.57" x2="596.24" y2="219.29" stroke="#4a4a4a" stroke-width="1.1" />
<line x1="595.20" y1="218.21" x2="617.20" y2="241.31" stroke="#1a1a1a" stroke-width="1.3" />
<line x1="594.11" y1="219.24" x2="616.11" y2="242.35" stroke="#4a4a4a" stroke-width="1.1" />
<line x1="617.20" y1="241.31" x2="640.20" y2="219.03" stroke="#1a1a1a" stroke-width="1.3" />
<line x1="618.24" y1="242.39" x2="641.24" y2="220.11" stroke="#4a4a4a" stroke-width="1.1" />
<line x1="640.20" y1="219.03" x2="662.20" y2="242.14" stroke="#1a1a1a" stroke-width="1.3" />
<line x1="639.11" y1="220.07" x2="661.11" y2="243.17" stroke="#4a4a4a" stroke-width="1.1" />
<line x1="662.20" y1="242.14" x2="685.20" y2="219.86" stroke="#1a1a1a" stroke-width="1.3" />
<line x1="663.24" y1="243.21" x2="686.24" y2="220.93" stroke="#4a4a4a" stroke-width="1.1" />
<line x1="685.20" y1="219.86" x2="707.20" y2="242.96" stroke="#1a1a1a" stroke-width="1.3" />
<line x1="684.11" y1="220.89" x2="706.11" y2="243.99" stroke="#4a4a4a" stroke-width="1.1" />
<line x1="707.20" y1="242.96" x2="730.20" y2="220.68" stroke="#1a1a1a" stroke-width="1.3" />
<line x1="708.24" y1="244.04" x2="731.24" y2="221.76" stroke="#4a4a4a" stroke-width="1.1" />
<line x1="730.20" y1="220.68" x2="752.50" y2="243.79" stroke="#1a1a1a" stroke-width="1.3" />
<line x1="729.12" y1="221.72" x2="751.42" y2="244.83" stroke="#4a4a4a" stroke-width="1.1" />
<line x1="752.50" y1="243.79" x2="772.70" y2="223.06" stroke="#1a1a1a" stroke-width="1.3" />
<line x1="753.57" y1="244.84" x2="773.77" y2="224.11" stroke="#4a4a4a" stroke-width="1.1" />
<rect x="545.20" y="217.39" width="10.00" height="3.00" stroke="#bbb" stroke-width="0.6" fill="none" />
<rect x="590.20" y="218.21" width="10.00" height="3.00" stroke="#bbb" stroke-width="0.6" fill="none" />
<rect x="635.20" y="219.03" width="10.00" height="3.00" stroke="#bbb" stroke-width="0.6" fill="none" />
<rect x="680.20" y="219.86" width="10.00" height="3.00" stroke="#bbb" stroke-width="0.6" fill="none" />
<rect x="725.20" y="220.68" width="10.00" height="3.00" stroke="#bbb" stroke-width="0.6" fill="none" />
<rect x="522.20" y="236.67" width="10.00" height="3.00" stroke="#bbb" stroke-width="0.6" fill="none" />
<rect x="567.20" y="237.49" width="10.00" height="3.00" stroke="#bbb" stroke-width="0.6" fill="none" />
<rect x="612.20" y="238.31" width="10.00" height="3.00" stroke="#bbb" stroke-width="0.6" fill="none" />
<rect x="657.20" y="239.14" width="10.00" height="3.00" stroke="#bbb" stroke-width="0.6" fill="none" />
<rect x="702.20" y="239.96" width="10.00" height="3.00" stroke="#bbb" stroke-width="0.6" fill="none" />
<rect x="747.50" y="240.79" width="10.00" height="3.00" stroke="#bbb" stroke-width="0.6" fill="none" />
<line x1="792.70" y1="244.72" x2="1028.50" y2="249.04" stroke="#666" stroke-width="0.9" />
<line x1="792.70" y1="246.62" x2="1028.50" y2="250.94" stroke="#999" stroke-width="0.8" stroke-dasharray="5 3"/>
<line x1="792.70" y1="248.62" x2="1028.50" y2="252.94" stroke="#777" stroke-width="0.9" />
<line x1="792.70" y1="244.72" x2="792.70" y2="248.62" stroke="#444" stroke-width="0.9" />
<line x1="1028.50" y1="249.04" x2="1028.50" y2="252.94" stroke="#444" stroke-width="0.9" />
<line x1="778.70" y1="223.17" x2="800.70" y2="244.67" stroke="#1a1a1a" stroke-width="1.3" />
<line x1="777.65" y1="224.24" x2="799.65" y2="245.74" stroke="#4a4a4a" stroke-width="1.1" />
<line x1="800.70" y1="244.67" x2="822.70" y2="222.37" stroke="#1a1a1a" stroke-width="1.3" />
<line x1="801.77" y1="245.72" x2="823.77" y2="223.43" stroke="#4a4a4a" stroke-width="1.1" />
<line x1="822.70" y1="222.37" x2="845.00" y2="245.48" stroke="#1a1a1a" stroke-width="1.3" />
<line x1="821.62" y1="223.41" x2="843.92" y2="246.52" stroke="#4a4a4a" stroke-width="1.1" />
<line x1="845.00" y1="245.48" x2="867.00" y2="223.18" stroke="#1a1a1a" stroke-width="1.3" />
<line x1="846.07" y1="246.53" x2="868.07" y2="224.24" stroke="#4a4a4a" stroke-width="1.1" />
<line x1="867.00" y1="223.18" x2="889.30" y2="246.29" stroke="#1a1a1a" stroke-width="1.3" />
<line x1="865.92" y1="224.23" x2="888.22" y2="247.33" stroke="#4a4a4a" stroke-width="1.1" />
<line x1="889.30" y1="246.29" x2="911.30" y2="223.99" stroke="#1a1a1a" stroke-width="1.3" />
<line x1="890.37" y1="247.35" x2="912.37" y2="225.05" stroke="#4a4a4a" stroke-width="1.1" />
<line x1="911.30" y1="223.99" x2="933.60" y2="247.10" stroke="#1a1a1a" stroke-width="1.3" />
<line x1="910.22" y1="225.04" x2="932.52" y2="248.14" stroke="#4a4a4a" stroke-width="1.1" />
<line x1="933.60" y1="247.10" x2="955.60" y2="224.81" stroke="#1a1a1a" stroke-width="1.3" />
<line x1="934.67" y1="248.16" x2="956.67" y2="225.86" stroke="#4a4a4a" stroke-width="1.1" />
<line x1="955.60" y1="224.81" x2="977.90" y2="247.91" stroke="#1a1a1a" stroke-width="1.3" />
<line x1="954.52" y1="225.85" x2="976.82" y2="248.95" stroke="#4a4a4a" stroke-width="1.1" />
<line x1="977.90" y1="247.91" x2="1000.00" y2="225.62" stroke="#1a1a1a" stroke-width="1.3" />
<line x1="978.97" y1="248.97" x2="1001.07" y2="226.67" stroke="#4a4a4a" stroke-width="1.1" />
<line x1="1000.00" y1="225.62" x2="1021.90" y2="248.72" stroke="#1a1a1a" stroke-width="1.3" />
<line x1="998.91" y1="226.65" x2="1020.81" y2="249.75" stroke="#4a4a4a" stroke-width="1.1" />
<line x1="1021.90" y1="248.72" x2="1040.50" y2="227.96" stroke="#1a1a1a" stroke-width="1.3" />
<line x1="1023.02" y1="249.72" x2="1041.62" y2="228.96" stroke="#4a4a4a" stroke-width="1.1" />
<rect x="817.70" y="222.37" width="10.00" height="3.00" stroke="#bbb" stroke-width="0.6" fill="none" />
<rect x="862.00" y="223.18" width="10.00" height="3.00" stroke="#bbb" stroke-width="0.6" fill="none" />
<rect x="906.30" y="223.99" width="10.00" height="3.00" stroke="#bbb" stroke-width="0.6" fill="none" />
<rect x="950.60" y="224.81" width="10.00" height="3.00" stroke="#bbb" stroke-width="0.6" fill="none" />
<rect x="995.00" y="225.62" width="10.00" height="3.00" stroke="#bbb" stroke-width="0.6" fill="none" />
<rect x="795.70" y="241.67" width="10.00" height="3.00" stroke="#bbb" stroke-width="0.6" fill="none" />
<rect x="840.00" y="242.48" width="10.00" height="3.00" stroke="#bbb" stroke-width="0.6" fill="none" />
<rect x="884.30" y="243.29" width="10.00" height="3.00" stroke="#bbb" stroke-width="0.6" fill="none" />
<rect x="928.60" y="244.10" width="10.00" height="3.00" stroke="#bbb" stroke-width="0.6" fill="none" />
<rect x="972.90" y="244.91" width="10.00" height="3.00" stroke="#bbb" stroke-width="0.6" fill="none" />
<rect x="1016.90" y="245.72" width="10.00" height="3.00" stroke="#bbb" stroke-width="0.6" fill="none" />
<rect x="235.80" y="207.04" width="2.40" height="11.00" stroke="#555" stroke-width="0.8" fill="none" />
<rect x="1041.50" y="221.77" width="2.40" height="11.00" stroke="#555" stroke-width="0.8" fill="none" />
<line x1="502.20" y1="222.46" x2="502.20" y2="367.25" stroke="#888" stroke-width="0.9" />
<line x1="507.80" y1="222.46" x2="507.80" y2="367.25" stroke="#888" stroke-width="0.9" />
<rect x="498.70" y="218.46" width="12.60" height="4.00" stroke="#999" stroke-width="0.7" fill="none" />
<line x1="505.00" y1="208.46" x2="505.00" y2="222.46" stroke="#333" stroke-width="0.9" />
<line x1="773.30" y1="227.40" x2="773.30" y2="367.25" stroke="#888" stroke-width="0.9" />
<line x1="777.30" y1="227.40" x2="777.30" y2="367.25" stroke="#888" stroke-width="0.9" />
<rect x="769.80" y="223.40" width="11.00" height="4.00" stroke="#999" stroke-width="0.7" fill="none" />
<line x1="775.30" y1="213.40" x2="775.30" y2="227.40" stroke="#333" stroke-width="0.9" />
<line x1="803.10" y1="166.10" x2="865.60" y2="166.10" stroke="#9a9a9a" stroke-width="1" />
<line x1="803.10" y1="166.10" x2="803.10" y2="177.20" stroke="#9a9a9a" stroke-width="1" />
<line x1="803.10" y1="177.20" x2="803.10" y2="228.90" stroke="#111" stroke-width="1.5" />
<text x="815.00" y="160.90" font-size="10.5" text-anchor="start" >Состав 2</text>
<line x1="803.20" y1="343.30" x2="865.80" y2="343.30" stroke="#9a9a9a" stroke-width="1" />
<line x1="803.20" y1="343.30" x2="803.20" y2="354.00" stroke="#9a9a9a" stroke-width="1" />
<line x1="803.20" y1="354.00" x2="803.20" y2="384.00" stroke="#111" stroke-width="1.5" />
<text x="814.80" y="338.50" font-size="10.5" text-anchor="start" >Состав 1</text>
<line x1="276.30" y1="239.17" x2="276.30" y2="367.25" stroke="#9a9a9a" stroke-width="1" />
<line x1="271.80" y1="234.17" x2="280.80" y2="244.17" stroke="#555" stroke-width="0.9" />
<line x1="271.80" y1="362.25" x2="280.80" y2="372.25" stroke="#555" stroke-width="0.9" />
<text transform="translate(273.6,310.8) rotate(-90)" font-size="10.3" text-anchor="middle">4300</text>
<line x1="979.50" y1="252.04" x2="979.50" y2="367.25" stroke="#9a9a9a" stroke-width="1" />
<line x1="975.00" y1="247.04" x2="984.00" y2="257.04" stroke="#555" stroke-width="0.9" />
<line x1="975.00" y1="362.25" x2="984.00" y2="372.25" stroke="#555" stroke-width="0.9" />
<text transform="translate(976.8,310.8) rotate(-90)" font-size="10.3" text-anchor="middle">3810</text>
<line x1="234.50" y1="376.60" x2="234.50" y2="450.70" stroke="#333" stroke-width="1" />
<circle cx="234.7" cy="464.3" r="13.6" stroke="#8a8a8a" stroke-width="0.8" fill="none"/>
<text x="234.90" y="468.80" font-size="12.2" text-anchor="middle" >А</text>
<line x1="505.40" y1="376.60" x2="505.40" y2="450.70" stroke="#333" stroke-width="1" />
<circle cx="505.59999999999997" cy="464.3" r="13.6" stroke="#8a8a8a" stroke-width="0.8" fill="none"/>
<text x="505.80" y="468.80" font-size="12.2" text-anchor="middle" >В</text>
<line x1="775.40" y1="376.60" x2="775.40" y2="450.70" stroke="#333" stroke-width="1" />
<circle cx="775.6" cy="464.3" r="13.6" stroke="#8a8a8a" stroke-width="0.8" fill="none"/>
<text x="775.80" y="468.80" font-size="12.2" text-anchor="middle" >Д</text>
<line x1="1046.30" y1="376.60" x2="1046.30" y2="450.70" stroke="#333" stroke-width="1" />
<circle cx="1046.5" cy="464.3" r="13.6" stroke="#8a8a8a" stroke-width="0.8" fill="none"/>
<text x="1046.70" y="468.80" font-size="12.2" text-anchor="middle" >Ж</text>
<line x1="228.50" y1="410.00" x2="1052.30" y2="410.00" stroke="#c8c8c8" stroke-width="1" />
<line x1="228.50" y1="430.80" x2="1052.30" y2="430.80" stroke="#c8c8c8" stroke-width="1" />
<line x1="229.50" y1="414.50" x2="239.50" y2="405.50" stroke="#1e1e1e" stroke-width="0.9" />
<line x1="500.40" y1="414.50" x2="510.40" y2="405.50" stroke="#1e1e1e" stroke-width="0.9" />
<line x1="770.40" y1="414.50" x2="780.40" y2="405.50" stroke="#1e1e1e" stroke-width="0.9" />
<line x1="1041.30" y1="414.50" x2="1051.30" y2="405.50" stroke="#1e1e1e" stroke-width="0.9" />
<line x1="229.50" y1="435.30" x2="239.50" y2="426.30" stroke="#1e1e1e" stroke-width="0.9" />
<line x1="1041.30" y1="435.30" x2="1051.30" y2="426.30" stroke="#1e1e1e" stroke-width="0.9" />
<text x="370.00" y="406.50" font-size="10.4" text-anchor="middle" >9000</text>
<text x="640.30" y="406.50" font-size="10.4" text-anchor="middle" >9000</text>
<text x="911.00" y="406.50" font-size="10.4" text-anchor="middle" >9000</text>
<text x="598.00" y="427.80" font-size="10.4" text-anchor="start" >27000</text>
</svg>
</body></html>
